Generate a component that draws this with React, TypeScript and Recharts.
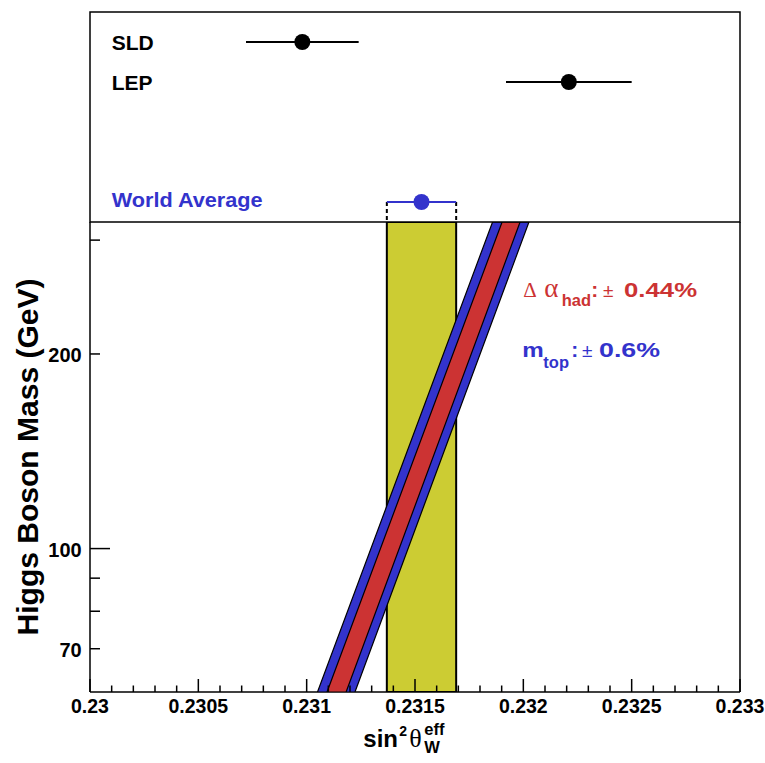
import React from 'react';
import { ScatterChart, Scatter, XAxis, YAxis, ErrorBar, ReferenceLine, ReferenceArea } from 'recharts';

// ---------- data ----------
// top panel: measurements of sin^2 theta_eff
const MEASUREMENTS = ['SLD', 'LEP', 'World Average'];
const MEAS_VALUES = [0.23098, 0.23221, 0.23153];
const MEAS_ERRORS = [0.00026, 0.00029, 0.00016];
const MEAS_ROWS = [4.5, 3.5, 0.5];
const LABEL_X = 0.2301;
const TOP_ROW_DOMAIN = [0, 5.25];

// bottom panel: SM prediction bands (edges at the lower / upper Higgs mass bound)
const MH_RANGE = [60, 320];
const MTOP_BAND_LOW = [0.23105, 0.231858];
const MTOP_BAND_HIGH = [0.231223, 0.232026];
const ALPHA_BAND_LOW = [0.231094, 0.231902];
const ALPHA_BAND_HIGH = [0.231182, 0.231985];

const ANNOT_X = 0.232;
const ANNOT_MH = [244.8, 197.9];

// axes
const X_DOMAIN = [0.23, 0.233];
const X_MAJOR_TICKS = [0.23, 0.2305, 0.231, 0.2315, 0.232, 0.2325, 0.233];
const X_MAJOR_LABELS = ['0.23', '0.2305', '0.231', '0.2315', '0.232', '0.2325', '0.233'];
const X_MINOR_TICKS = [
  0.2301, 0.2302, 0.2303, 0.2304, 0.2306, 0.2307, 0.2308, 0.2309,
  0.2311, 0.2312, 0.2313, 0.2314, 0.2316, 0.2317, 0.2318, 0.2319,
  0.2321, 0.2322, 0.2323, 0.2324, 0.2326, 0.2327, 0.2328, 0.2329,
];
const Y_LABELED_TICKS = [70, 100, 200];
const Y_LABELS = ['70', '100', '200'];
const Y_MINOR_TICKS = [80, 90, 300];
const Y_DECADE_TICK = 100;

// ---------- styles ----------
const SANS = '"Liberation Sans", Arial, Helvetica, sans-serif';
const SERIF = '"Liberation Serif", "Times New Roman", serif';
const RED = '#cc3333';
const BLUE = '#3333cc';
const YELLOW = '#cccc33';
const MEAS_COLOR: Record<string, string> = { SLD: '#000', LEP: '#000', 'World Average': BLUE };

const W = 765;
const H = 763;

const near = (a: number, b: number) => Math.abs(a - b) < 1e-9;

const polygonLine = (fill: string, strokeWidth: number) => (props: any) => {
  const pts = (props.points || []).filter((p: any) => p && p.x != null && p.y != null);
  if (pts.length < 3) return <g />;
  const d = pts.map((p: any, i: number) => `${i ? 'L' : 'M'}${p.x},${p.y}`).join(' ') + ' Z';
  return <path d={d} fill={fill} stroke="#000" strokeWidth={strokeWidth} />;
};

const corners = (low: number[], high: number[]) => [
  { x: low[0], y: MH_RANGE[0] },
  { x: low[1], y: MH_RANGE[1] },
  { x: high[1], y: MH_RANGE[1] },
  { x: high[0], y: MH_RANGE[0] },
];

const waIdx = MEASUREMENTS.indexOf('World Average');
const WA_LOW = MEAS_VALUES[waIdx] - MEAS_ERRORS[waIdx];
const WA_HIGH = MEAS_VALUES[waIdx] + MEAS_ERRORS[waIdx];

const XTick = (props: any) => {
  const { x, y, payload } = props;
  const idx = X_MAJOR_TICKS.findIndex((t) => near(t, payload.value));
  const major = idx >= 0;
  return (
    <g>
      <line x1={x} y1={y} x2={x} y2={y - (major ? 13 : 6.5)} stroke="#000" strokeWidth={1.5} />
      {major && (
        <text x={x} y={y + 20.7} textAnchor="middle" fontFamily={SANS} fontWeight="bold" fontSize={19.5} fill="#000">
          {X_MAJOR_LABELS[idx]}
        </text>
      )}
    </g>
  );
};

const YTick = (props: any) => {
  const { x, y, payload } = props;
  const idx = Y_LABELED_TICKS.findIndex((t) => near(t, payload.value));
  const len = near(payload.value, Y_DECADE_TICK) ? 20 : 10;
  return (
    <g>
      <line x1={x} y1={y} x2={x + len} y2={y} stroke="#000" strokeWidth={1.5} />
      {idx >= 0 && (
        <text x={x - 8.3} y={y + 8.5} textAnchor="end" fontFamily={SANS} fontWeight="bold" fontSize={20} fill="#000">
          {Y_LABELS[idx]}
        </text>
      )}
    </g>
  );
};

const XTitle = (props: any) => {
  const vb = props.viewBox || { x: 90, y: 692, width: 650, height: 71 };
  const x0 = vb.x + vb.width / 2 - 51.7;
  const y0 = vb.y + 54.7;
  return (
    <text x={x0} y={y0} fontFamily={SANS} fontWeight="bold" fill="#000">
      <tspan x={x0} y={y0} fontSize={24}>sin</tspan>
      <tspan x={x0 + 36} y={y0 - 11} fontSize={14}>2</tspan>
      <tspan x={x0 + 46} y={y0} fontFamily={SERIF} fontWeight="normal" fontSize={26}>θ</tspan>
      <tspan x={x0 + 61} y={y0 - 11.7} fontSize={16.5}>eff</tspan>
      <tspan x={x0 + 61} y={y0 + 6.6} fontSize={16.5}>W</tspan>
    </text>
  );
};

const YTitle = (props: any) => {
  const vb = props.viewBox || { x: 0, y: 222, width: 90, height: 470 };
  const cx = vb.x + 38.3;
  const cy = vb.y + vb.height / 2;
  return (
    <text
      x={cx}
      y={cy}
      transform={`rotate(-90, ${cx}, ${cy})`}
      textAnchor="middle"
      fontFamily={SANS}
      fontWeight="bold"
      fontSize={30}
      textLength={357}
      lengthAdjust="spacingAndGlyphs"
      fill="#000"
    >
      Higgs Boson Mass (GeV)
    </text>
  );
};

const AlphaLabel = (p: any) => {
  const x = p.cx;
  const y = p.cy;
  return (
    <text x={x} y={y} fill={RED} fontFamily={SANS}>
      <tspan x={x} y={y} fontFamily={SERIF} fontSize={21}>Δ</tspan>
      <tspan x={x + 21} y={y} fontFamily={SERIF} fontSize={27}>α</tspan>
      <tspan x={x + 38.4} y={y + 8.3} fontWeight="bold" fontSize={16.5}>had</tspan>
      <tspan x={x + 68} y={y} fontWeight="bold" fontSize={21}>:</tspan>
      <tspan x={x + 79.7} y={y} fontSize={19}>±</tspan>
      <tspan x={x + 100.7} y={y} fontWeight="bold" fontSize={21} textLength={73} lengthAdjust="spacingAndGlyphs">0.44%</tspan>
    </text>
  );
};

const MtopLabel = (p: any) => {
  const x = p.cx;
  const y = p.cy;
  return (
    <text x={x} y={y} fill={BLUE} fontFamily={SANS}>
      <tspan x={x - 1} y={y} fontWeight="bold" fontSize={21} textLength={21.5} lengthAdjust="spacingAndGlyphs">m</tspan>
      <tspan x={x + 20} y={y + 10.6} fontWeight="bold" fontSize={16.5}>top</tspan>
      <tspan x={x + 48} y={y} fontWeight="bold" fontSize={21}>:</tspan>
      <tspan x={x + 58.7} y={y} fontSize={19}>±</tspan>
      <tspan x={x + 75.7} y={y} fontWeight="bold" fontSize={21} textLength={61} lengthAdjust="spacingAndGlyphs">0.6%</tspan>
    </text>
  );
};

const noShape = () => <g />;

export default function App() {
  return (
    <div style={{ position: 'absolute', left: 0, top: 0, width: W, height: H, background: '#fff' }}>
      {/* lower panel */}
      <div style={{ position: 'absolute', left: 0, top: 0 }}>
        <ScatterChart width={W} height={H} margin={{ top: 222, right: 25, bottom: 0, left: 0 }}>
          <XAxis
            type="number"
            dataKey="x"
            scale="linear"
            domain={X_DOMAIN}
            allowDataOverflow
            ticks={[...X_MAJOR_TICKS, ...X_MINOR_TICKS].sort((a, b) => a - b)}
            interval={0}
            height={71}
            tickSize={0}
            tickMargin={0}
            tickLine={false}
            axisLine={{ stroke: '#000', strokeWidth: 1.5 }}
            tick={XTick}
            label={XTitle}
          />
          <YAxis
            type="number"
            dataKey="y"
            scale="log"
            domain={MH_RANGE}
            allowDataOverflow
            ticks={[...Y_LABELED_TICKS, ...Y_MINOR_TICKS].sort((a, b) => a - b)}
            interval={0}
            width={90}
            tickSize={0}
            tickMargin={0}
            tickLine={false}
            axisLine={{ stroke: '#000', strokeWidth: 1.5 }}
            tick={YTick}
            label={YTitle}
          />
          <Scatter
            data={corners([WA_LOW, WA_LOW], [WA_HIGH, WA_HIGH])}
            line={polygonLine(YELLOW, 2)}
            shape={noShape}
            isAnimationActive={false}
          />
          <Scatter
            data={corners(MTOP_BAND_LOW, MTOP_BAND_HIGH)}
            line={polygonLine(BLUE, 1.2)}
            shape={noShape}
            isAnimationActive={false}
          />
          <Scatter
            data={corners(ALPHA_BAND_LOW, ALPHA_BAND_HIGH)}
            line={polygonLine(RED, 1.2)}
            shape={noShape}
            isAnimationActive={false}
          />
          <Scatter data={[{ x: ANNOT_X, y: ANNOT_MH[0] }]} shape={AlphaLabel} isAnimationActive={false} />
          <Scatter data={[{ x: ANNOT_X, y: ANNOT_MH[1] }]} shape={MtopLabel} isAnimationActive={false} />
          <ReferenceLine x={X_DOMAIN[1]} stroke="#000" strokeWidth={1.5} />
        </ScatterChart>
      </div>
      {/* upper panel */}
      <div style={{ position: 'absolute', left: 0, top: 0 }}>
        <ScatterChart width={W} height={H} margin={{ top: 12, right: 25, bottom: H - 222, left: 90 }}>
          <XAxis type="number" dataKey="x" scale="linear" domain={X_DOMAIN} allowDataOverflow hide />
          <YAxis type="number" dataKey="y" domain={TOP_ROW_DOMAIN} allowDataOverflow hide />
          <ReferenceArea
            x1={X_DOMAIN[0]}
            x2={X_DOMAIN[1]}
            y1={TOP_ROW_DOMAIN[0]}
            y2={TOP_ROW_DOMAIN[1]}
            fill="none"
            fillOpacity={0}
            stroke="#000"
            strokeWidth={1.5}
          />
          <ReferenceLine
            segment={[{ x: WA_LOW, y: MEAS_ROWS[waIdx] }, { x: WA_LOW, y: TOP_ROW_DOMAIN[0] }]}
            stroke="#000"
            strokeWidth={2}
            strokeDasharray="4 3"
          />
          <ReferenceLine
            segment={[{ x: WA_HIGH, y: MEAS_ROWS[waIdx] }, { x: WA_HIGH, y: TOP_ROW_DOMAIN[0] }]}
            stroke="#000"
            strokeWidth={2}
            strokeDasharray="4 3"
          />
          {MEASUREMENTS.map((name, i) => {
            const color = MEAS_COLOR[name];
            return (
              <Scatter
                key={name}
                data={[{ x: MEAS_VALUES[i], y: MEAS_ROWS[i], err: MEAS_ERRORS[i] }]}
                shape={(p: any) => <circle cx={p.cx} cy={p.cy} r={8} fill={color} />}
                isAnimationActive={false}
              >
                <ErrorBar dataKey="err" direction="x" width={0} stroke={color} strokeWidth={2} />
              </Scatter>
            );
          })}
          {MEASUREMENTS.map((name, i) => {
            const color = MEAS_COLOR[name];
            const isWA = name === 'World Average';
            return (
              <Scatter
                key={`label-${name}`}
                data={[{ x: LABEL_X, y: MEAS_ROWS[i] }]}
                shape={(p: any) => (
                  <text
                    x={p.cx}
                    y={p.cy + (isWA ? 5 : 7.5)}
                    fill={color}
                    fontFamily={SANS}
                    fontWeight="bold"
                    fontSize={21}
                    {...(isWA ? { textLength: 151, lengthAdjust: 'spacingAndGlyphs' } : {})}
                  >
                    {name}
                  </text>
                )}
                isAnimationActive={false}
              />
            );
          })}
        </ScatterChart>
      </div>
    </div>
  );
}
